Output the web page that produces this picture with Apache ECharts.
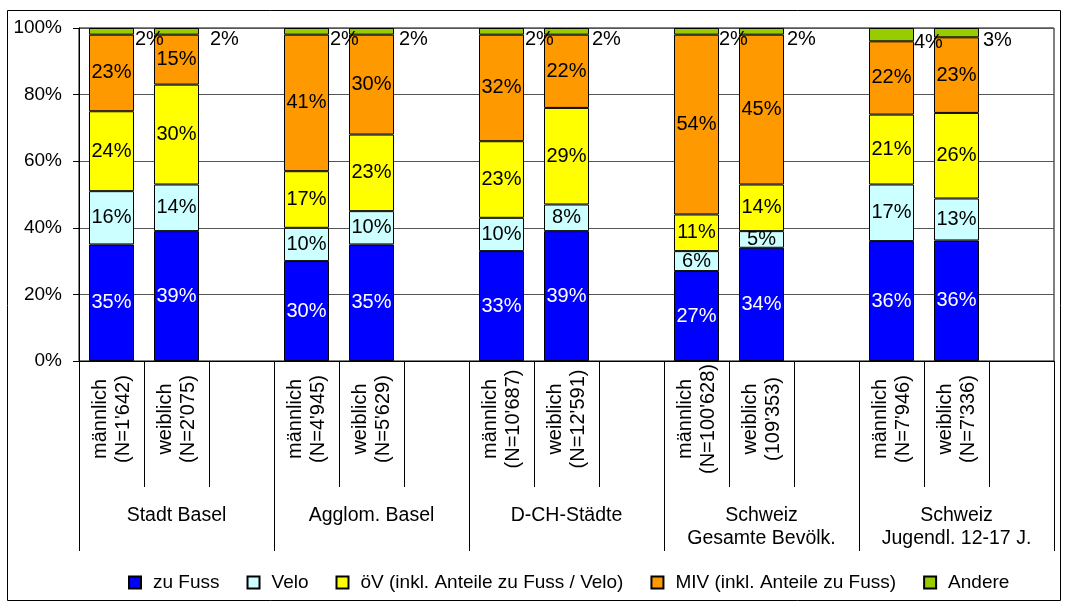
<!DOCTYPE html>
<html>
<head>
<meta charset="utf-8">
<title>Verkehrsmittelwahl nach Geschlecht</title>
<script src="https://cdn.jsdelivr.net/npm/echarts@6/dist/echarts.min.js"></script>
<style>
  html, body { margin: 0; padding: 0; background: #fff; }
  #chart { width: 1066px; height: 603px; }
</style>
</head>
<body>
<div id="chart"></div>
<script>
// Gruppen und Kategorien (je Gruppe: männlich, weiblich, Leerplatz)
const groups = ['Stadt Basel', 'Agglom. Basel', 'D-CH-Städte', 'Schweiz\nGesamte Bevölk.', 'Schweiz\nJugendl. 12-17 J.']
const slots = [
  "männlich\n(N=1'642)", "weiblich\n(N=2'075)", '',
  "männlich\n(N=4'945)", "weiblich\n(N=5'629)", '',
  "männlich\n(N=10'687)", "weiblich\n(N=12'591)", '',
  "männlich\n(N=100'628)", "weiblich\n(109'353)", '',
  "männlich\n(N=7'946)", "weiblich\n(N=7'336)", ''
]
const yTicks = [0, 20, 40, 60, 80, 100]

// Anteile in %
const zuFuss = [35, 39, null, 30, 35, null, 33, 39, null, 27, 34, null, 36, 36.2, null]
const velo   = [16, 14, null, 10, 10, null, 10, 8, null, 6, 5, null, 17, 12.6, null]
const oeV    = [24, 30, null, 17, 23, null, 23, 29, null, 11, 14, null, 21, 25.7, null]
const miv    = [23, 15, null, 41, 30, null, 32, 22, null, 54, 45, null, 22, 22.7, null]
const andere = [2, 2, null, 2, 2, null, 2, 2, null, 2, 2, null, 4, 2.8, null]

// Abstand der "Andere"-Beschriftung rechts neben dem Balken
const andereGap = [1, 11, 0, 1, 5, 0, 1, 3, 0, 0, 3, 0, 0, 4, 0]

const FONT = "'Liberation Sans', Arial, sans-serif"

const chart = echarts.init(document.getElementById('chart'))

const pct = p => Math.round(p.value) + '%'

const makeSeries = (name, data, color, textColor) => ({
  name,
  type: 'bar',
  stack: 'total',
  barWidth: 45,
  data,
  itemStyle: { color, borderColor: '#000', borderWidth: 1 },
  label: {
    show: true,
    position: 'inside',
    formatter: pct,
    color: textColor,
    fontFamily: FONT,
    fontSize: 20
  },
  emphasis: { disabled: true }
})

const andereSeries = makeSeries('Andere', andere.map((v, i) => ({
  value: v,
  label: { distance: andereGap[i] }
})), '#99CC00', '#000')
andereSeries.label.position = 'right'
andereSeries.label.offset = [0, 8]

const option = {
  animation: false,
  textStyle: { fontFamily: FONT },
  graphic: [{
    type: 'rect',
    shape: { x: 7.5, y: 10.5, width: 1053, height: 590 },
    style: { fill: 'none', stroke: '#000', lineWidth: 1 },
    silent: true
  }],
  grid: {
    left: 79, right: 12, top: 28, bottom: 242,
    show: true, borderColor: '#000', borderWidth: 1
  },
  legend: {
    left: 128,
    top: 573,
    padding: 0,
    itemWidth: 12,
    itemHeight: 12,
    itemGap: 27,
    icon: 'rect',
    selectedMode: false,
    textStyle: { fontFamily: FONT, fontSize: 19, color: '#000', padding: [0, 0, 0, 7] }
  },
  xAxis: [
    {
      type: 'category',
      data: slots,
      axisLine: { show: true, lineStyle: { color: '#000' } },
      axisTick: { show: true, interval: 0, length: 126, lineStyle: { color: '#000', width: 1 } },
      axisLabel: {
        interval: 0,
        rotate: 90,
        align: 'center',
        verticalAlign: 'middle',
        margin: 58,
        fontSize: 20,
        lineHeight: 23,
        color: '#000',
        fontFamily: FONT
      }
    },
    {
      type: 'category',
      position: 'bottom',
      data: groups,
      axisLine: { show: false },
      axisTick: { show: true, interval: 0, length: 190, lineStyle: { color: '#000', width: 1 } },
      axisLabel: {
        interval: 0,
        margin: 143,
        fontSize: 19.5,
        lineHeight: 23,
        color: '#000',
        fontFamily: FONT
      }
    }
  ],
  yAxis: {
    type: 'value',
    min: yTicks[0],
    max: yTicks[yTicks.length - 1],
    interval: 20,
    axisLine: { show: true, lineStyle: { color: '#000' } },
    axisTick: { show: true, length: 6, lineStyle: { color: '#000' } },
    axisLabel: {
      formatter: '{value}%',
      margin: 17,
      fontSize: 19,
      color: '#000',
      fontFamily: FONT
    },
    splitLine: { lineStyle: { color: '#555', width: 1 } }
  },
  series: [
    makeSeries('zu Fuss', zuFuss, '#0000FF', '#fff'),
    makeSeries('Velo', velo, '#CCFFFF', '#000'),
    makeSeries('öV (inkl. Anteile zu Fuss / Velo)', oeV, '#FFFF00', '#000'),
    makeSeries('MIV (inkl. Anteile zu Fuss)', miv, '#FF9900', '#000'),
    andereSeries
  ]
}

chart.setOption(option)
</script>
</body>
</html>
